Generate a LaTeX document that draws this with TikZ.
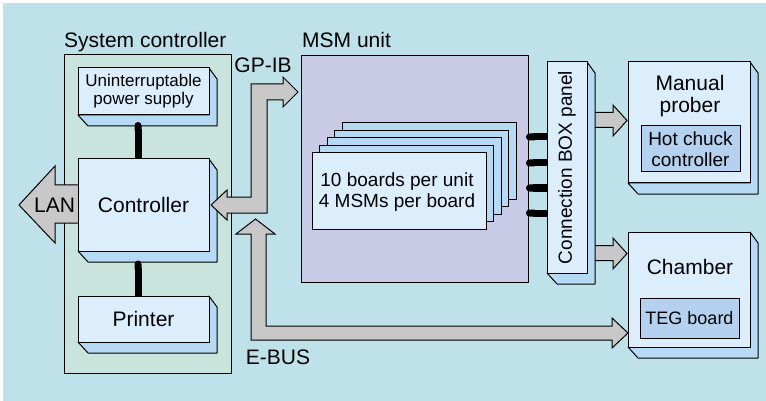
\documentclass[tikz,border=0pt]{standalone}
\usepackage{fontspec}
\setmainfont{Liberation Sans}
\usetikzlibrary{calc,arrows.meta}
\definecolor{bgblue}{RGB}{191,226,234}
\definecolor{sysgreen}{RGB}{200,228,220}
\definecolor{msmpurple}{RGB}{200,202,230}
\definecolor{frontblue}{RGB}{220,238,252}
\definecolor{shadeblue}{RGB}{182,218,244}
\definecolor{innerblue}{RGB}{180,210,240}
\definecolor{arrowgray}{RGB}{200,200,200}
\tikzset{
  box/.style={draw, line width=1pt, inner sep=0pt, outer sep=0pt},
  frontface/.style={box, fill=frontblue},
  shadeface/.style={draw, line width=1pt, fill=shadeblue, line join=round},
  blockarrow/.style={draw, line width=1pt, fill=arrowgray, line join=miter},
  wire/.style={line width=7pt, line cap=butt, arrows={Round Cap[]-}},
  bigtext/.style={font=\fontsize{21}{22}\selectfont},
  midtext/.style={font=\fontsize{19}{21}\selectfont},
  smalltext/.style={font=\fontsize{17}{18}\selectfont},
}
% 3D box: [options]{name}{x1}{y1}{x2}{y2}{text}
\newcommand\tdbox[6][]{%
  \filldraw[shadeface] (#5,#4) -- (#5+8,#4+11) -- (#5+8,#6+11) -- (#3+10,#6+11) -- (#3,#6) -- (#5,#6) -- cycle;
  \node[frontface, minimum width={(#5-#3)*1pt}, minimum height={(#6-#4)*1pt}, anchor=north west, #1] (#2) at (#3,#4) {};
}
\begin{document}
\begin{tikzpicture}[x=1pt,y=-1pt]
\useasboundingbox (0,0) rectangle (766,401);
\fill[bgblue] (3,3) rectangle (766,401);

% System controller
\node[box, fill=sysgreen, minimum width=167pt, minimum height=318pt, anchor=north west] (sys) at (64,55) {};
\node[bigtext, anchor=base west, inner sep=0pt] (systitle) at (64,48) {System controller};

% LAN arrow
\filldraw[blockarrow] (85,185) -- (55,185) -- (55,166) -- (19,205) -- (55,243) -- (55,223) -- (85,223) -- cycle;
\node[bigtext] (lan) at (54.5,205) {LAN};

% boxes in system controller
\tdbox{ups}{78}{68}{209}{115}
\node[smalltext, align=center] (upstxt) at (ups.center) {Uninterruptable\\power supply};
\tdbox{ctrl}{78}{159}{209}{251}
\node[bigtext] (ctrltxt) at (ctrl.center) {Controller};
\tdbox{prn}{78}{296}{209}{342}
\node[bigtext] (prntxt) at (prn.center) {Printer};
\draw[wire] ($(ups.south -| 138,0)+(0,7)$) -- (ctrl.north -| 138,0);
\draw[wire] ($(ctrl.south -| 138,0)+(0,9.5)$) -- (prn.north -| 138,0);

% MSM unit
\node[box, fill=msmpurple, minimum width=227pt, minimum height=226pt, anchor=north west] (msm) at (301,56) {};
\node[bigtext, anchor=base west, inner sep=0pt] (msmtitle) at (302,48) {MSM unit};
\foreach \k in {4,3,2,1}
  \node[box, fill=shadeblue, minimum width=174pt, minimum height=76pt, anchor=north west] (board\k) at ({312+7.5*\k},{153-7.5*\k}) {};
\node[box, fill=frontblue, minimum width=174pt, minimum height=76pt, anchor=north west] (board0) at (312,153) {};
\node[midtext, align=center] (boardtxt) at ($(board0.center)+(-2,1)$) {10 boards per unit\\4 MSMs per board};

% GP-IB arrow (double headed)
\filldraw[blockarrow] (211,205) -- (227,190) -- (227,197) -- (251,197) -- (251,84) -- (283,84) -- (283,77) -- (298,92) -- (283,107) -- (283,100) -- (267,100) -- (267,213) -- (227,213) -- (227,220) -- cycle;
\node[bigtext] (gpib) at (263,65) {GP-IB};

% E-BUS arrow (double headed)
\filldraw[blockarrow] (255.5,219) -- (275,234) -- (266,234) -- (266,326) -- (612,326) -- (612,318) -- (628,333) -- (612,348) -- (612,340) -- (251,340) -- (251,234) -- (236,234) -- cycle;
\node[bigtext] (ebus) at (278,357.5) {E-BUS};

% panel arrows
\filldraw[blockarrow] (590,112.5) -- (613,112.5) -- (613,105) -- (627,120.5) -- (613,136) -- (613,127.5) -- (590,127.5) -- cycle;
\filldraw[blockarrow] (590,245.5) -- (613,245.5) -- (613,238) -- (627,253.5) -- (613,269) -- (613,260.5) -- (590,260.5) -- cycle;

% Connection BOX panel
\tdbox{panel}{547}{62}{587}{273}
\node[midtext, rotate=90] (paneltxt) at (panel.center) {Connection BOX panel};
\foreach \yy in {137,163,188,213}
  \draw[wire] (526,\yy) -- (panel.west |- 0,\yy);

% Manual prober
\tdbox{prober}{628}{62}{750}{183}
\node[bigtext, align=center] (probertxt) at (690,96) {Manual\\prober};
\node[box, fill=innerblue, minimum width=99pt, minimum height=46pt, anchor=north west, midtext, align=center] (hotchuck) at (641,126) {Hot chuck\\controller};

% Chamber
\tdbox{chamber}{628}{232}{750}{347}
\node[bigtext] (chambertxt) at (690,267) {Chamber};
\node[box, fill=innerblue, minimum width=99pt, minimum height=40pt, anchor=north west, font=\fontsize{18}{20}\selectfont] (teg) at (640,298) {TEG board};
\end{tikzpicture}
\end{document}
